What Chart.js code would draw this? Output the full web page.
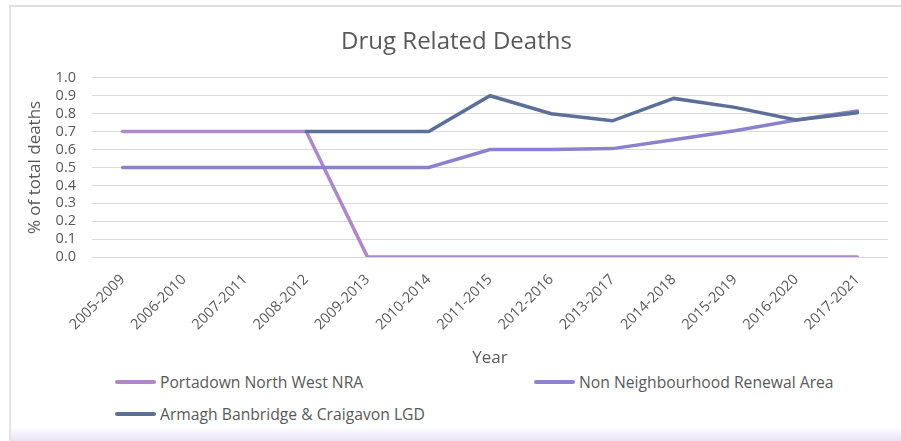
<!DOCTYPE html>
<html>
<head>
<meta charset="utf-8">
<script src="https://cdn.jsdelivr.net/npm/chart.js@4"></script>
<style>
    html, body { margin: 0; padding: 0; background: #fff; }
    body { width: 901px; height: 441px; position: relative; overflow: hidden; font-family: "Open Sans", sans-serif; }
    #frame { position: absolute; left: 9px; top: 5px; right: 0; bottom: 0; border-top: 2px solid #dedede; border-left: 2px solid #e4e4e4; }
    #wrap { position: absolute; left: 0; top: 0; width: 901px; height: 370px; }
    #band { position: absolute; left: 11px; right: 0; top: 426px; bottom: 0; background: linear-gradient(#ffffff, #ebe3f5); }
    .item { position: absolute; font-size: 15.7px; color: #595959; white-space: nowrap; line-height: 20px; }
    .item span.sw { position: absolute; left: -45px; top: 8px; width: 41px; height: 4px; border-radius: 2px; }
</style>
</head>
<body>
<div id="frame"></div>
<div id="band"></div>
<div id="wrap"><canvas id="drugChart"></canvas></div>
<div id="legend"></div>
<script>
document.addEventListener('DOMContentLoaded', () => {
    const categories = ['2005-2009', '2006-2010', '2007-2011', '2008-2012', '2009-2013', '2010-2014', '2011-2015',
        '2012-2016', '2013-2017', '2014-2018', '2015-2019', '2016-2020', '2017-2021'];
    const portadownValues = [0.7, 0.7, 0.7, 0.7, 0, 0, 0, 0, 0, 0, 0, 0, 0];
    const nonNraValues = [0.5, 0.5, 0.5, 0.5, 0.5, 0.5, 0.6, 0.6, 0.605, 0.655, 0.705, 0.765, 0.815];
    const armaghValues = [null, null, null, 0.7, 0.7, 0.7, 0.9, 0.8, 0.76, 0.885, 0.835, 0.765, 0.805];
    const seriesNames = ['Portadown North West NRA', 'Non Neighbourhood Renewal Area', 'Armagh Banbridge & Craigavon LGD'];
    const seriesColors = ['#b088c9', '#8b82cb', '#5b6f97'];

    const textColor = '#595959';
    const font = 'Open Sans';

    const ctx = document.getElementById('drugChart').getContext('2d');
    const chart = new Chart(ctx, {
        type: 'line',
        data: {
            labels: categories,
            datasets: [
                { label: seriesNames[0], data: portadownValues, borderColor: seriesColors[0], order: 3 },
                { label: seriesNames[1], data: nonNraValues, borderColor: seriesColors[1], order: 2 },
                { label: seriesNames[2], data: armaghValues, borderColor: seriesColors[2], order: 1 }
            ]
        },
        options: {
            responsive: true,
            maintainAspectRatio: false,
            animation: false,
            datasets: {
                line: {
                    borderWidth: 3.5,
                    pointRadius: 0,
                    tension: 0,
                    borderCapStyle: 'round',
                    borderJoinStyle: 'miter',
                    spanGaps: false
                }
            },
            layout: { padding: { top: 28, right: 13, left: 25, bottom: 2 } },
            plugins: {
                legend: { display: false },
                tooltip: { enabled: false },
                title: {
                    display: true,
                    text: 'Drug Related Deaths',
                    color: textColor,
                    font: { family: font, size: 24, weight: 'normal' },
                    padding: { top: 0, bottom: 21 }
                }
            },
            scales: {
                x: {
                    offset: true,
                    grid: { display: false },
                    border: { display: false },
                    ticks: {
                        color: textColor,
                        font: { family: font, size: 14.5 },
                        maxRotation: 45,
                        minRotation: 45,
                        autoSkip: false,
                        padding: 6
                    },
                    title: {
                        display: true,
                        text: 'Year',
                        color: textColor,
                        font: { family: font, size: 17 },
                        padding: { top: 8, bottom: 0 }
                    }
                },
                y: {
                    min: 0,
                    max: 1,
                    afterFit: (scale) => { scale.width = 67; },
                    grid: { color: '#d9d9d9', lineWidth: 1, drawTicks: false },
                    border: { display: false },
                    ticks: {
                        stepSize: 0.1,
                        autoSkip: false,
                        color: textColor,
                        font: { family: font, size: 14.5 },
                        padding: 16,
                        callback: (v) => v.toFixed(1)
                    },
                    title: {
                        display: true,
                        text: '% of total deaths',
                        color: textColor,
                        font: { family: font, size: 17 },
                        padding: { top: 0, bottom: 6 }
                    }
                }
            }
        }
    });

    // legend laid out like the Excel one: two columns, two rows
    const legendSpots = [[160, 372], [579, 372], [160, 404]];
    const legend = document.getElementById('legend');
    seriesNames.forEach((name, i) => {
        const item = document.createElement('div');
        item.className = 'item';
        item.style.left = legendSpots[i][0] + 'px';
        item.style.top = legendSpots[i][1] + 'px';
        item.innerHTML = `<span class="sw" style="background:${seriesColors[i]}"></span>`;
        item.appendChild(document.createTextNode(name));
        legend.appendChild(item);
    });
});
</script>
</body>
</html>
